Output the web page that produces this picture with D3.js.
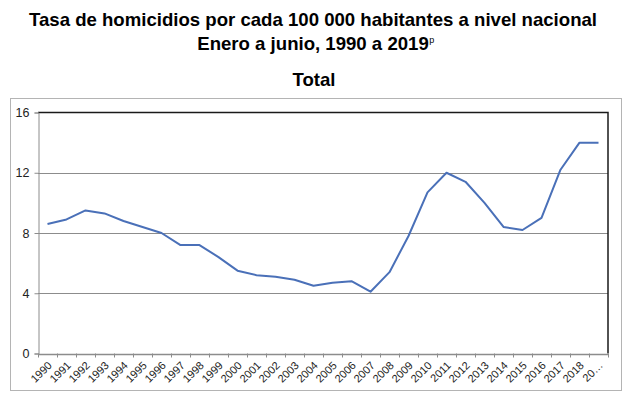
<!DOCTYPE html>
<html><head><meta charset="utf-8">
<script src="https://cdn.jsdelivr.net/npm/d3@7"></script>
<style>body{margin:0;background:#fff;}svg{display:block;font-family:"Liberation Sans",Arial,sans-serif;}</style>
</head><body>
<svg id="c" width="628" height="399"></svg>
<script>
const years = ["1990","1991","1992","1993","1994","1995","1996","1997","1998","1999","2000","2001","2002","2003","2004","2005","2006","2007","2008","2009","2010","2011","2012","2013","2014","2015","2016","2017","2018","2019"];
const tickLabels = ["1990","1991","1992","1993","1994","1995","1996","1997","1998","1999","2000","2001","2002","2003","2004","2005","2006","2007","2008","2009","2010","2011","2012","2013","2014","2015","2016","2017","2018","20…"];
const rates = [8.6,8.9,9.5,9.3,8.8,8.4,8.0,7.2,7.2,6.4,5.5,5.2,5.1,4.9,4.5,4.7,4.8,4.1,5.4,7.8,10.7,12.0,11.4,10.0,8.4,8.2,9.0,12.2,14.0,14.0];
const yTicks = [0,4,8,12,16];

const svg = d3.select("#c");
const L = 38, R = 608, T = 112.5, B = 353.5;

// outer frame
svg.append("rect").attr("x",10.5).attr("y",98.5).attr("width",611).attr("height",292)
  .attr("fill","#fff").attr("stroke","#b4b4b4").attr("stroke-width",1);

// titles
svg.append("text").attr("x",313).attr("y",26).attr("text-anchor","middle")
  .attr("font-size",18.6).attr("font-weight","bold").attr("fill","#000")
  .text("Tasa de homicidios por cada 100 000 habitantes a nivel nacional");
const t2 = svg.append("text").attr("x",313).attr("y",50).attr("text-anchor","middle")
  .attr("font-size",18.6).attr("font-weight","bold").attr("fill","#000")
  .text("Enero a junio, 1990 a 2019");
const w2 = t2.node().getComputedTextLength();
svg.append("text").attr("x",313 + w2/2 + 0.5).attr("y",43)
  .attr("font-size",9).attr("fill","#000").text("p");
svg.append("text").attr("x",314).attr("y",86).attr("text-anchor","middle")
  .attr("font-size",18.6).attr("font-weight","bold").attr("fill","#000").text("Total");

const x = d3.scaleBand().domain(years).range([L,R]);
const y = d3.scaleLinear().domain([0,16]).range([B,T]);

// gridlines
svg.append("g").selectAll("line").data(yTicks.filter(d=>d>0 && d<16)).join("line")
  .attr("x1",L).attr("x2",R).attr("y1",d=>Math.round(y(d))+0.5).attr("y2",d=>Math.round(y(d))+0.5)
  .attr("stroke","#8c8c8c").attr("stroke-width",1);

// plot border top/right
svg.append("path").attr("d",`M${L},${T}H${R}V${B}`).attr("fill","none").attr("stroke","#1a1a1a").attr("stroke-width",1.5);

// y axis
const ya = svg.append("g").attr("transform",`translate(${L+0.5},0)`)
  .call(d3.axisLeft(y).tickValues(yTicks).tickSize(4).tickPadding(5));
ya.select(".domain").attr("stroke","#8c8c8c");
ya.selectAll(".tick line").attr("stroke","#8c8c8c");
ya.selectAll("text").attr("font-size",12.5).attr("fill","#222").attr("font-family","Liberation Sans, Arial, sans-serif");

// x axis
const xa = svg.append("g").attr("transform",`translate(0,${B+0.5})`)
  .call(d3.axisBottom(x).tickSize(0).tickFormat((d,i)=>tickLabels[i]));
xa.select(".domain").attr("stroke","#8c8c8c").attr("stroke-width",1.5);
xa.selectAll(".tick text").attr("font-size",11).attr("fill","#222")
  .attr("font-family","Liberation Sans, Arial, sans-serif")
  .attr("text-anchor","end").attr("dy",null).attr("dx",null)
  .attr("transform","translate(3,10) rotate(-45)").attr("y",0).attr("x",0).attr("dominant-baseline","middle");
// boundary ticks
svg.append("g").selectAll("line").data(years.concat(["end"])).join("line")
  .attr("x1",(d,i)=>Math.round(L + i*x.step())+0.5).attr("x2",(d,i)=>Math.round(L + i*x.step())+0.5)
  .attr("y1",B).attr("y2",B+4).attr("stroke","#8c8c8c");

// line
const line = d3.line().x((d,i)=>x(years[i])+x.bandwidth()/2).y(d=>y(d));
svg.append("path").datum(rates).attr("d",line).attr("fill","none")
  .attr("stroke","#4a70b8").attr("stroke-width",2).attr("stroke-linejoin","round");
</script>
</body></html>
